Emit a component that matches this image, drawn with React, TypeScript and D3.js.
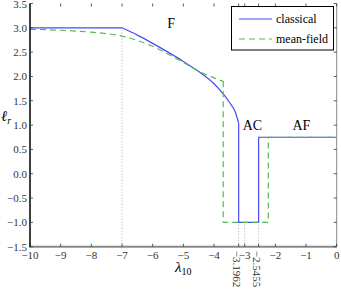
import { useEffect, useRef } from "react";
import * as d3 from "d3";

// classical curve (lambda, l_r): flat, curved branch, then AC well and AF plateau
const classicalCurveX = [-7, -6.5, -6, -5.5, -5, -4.5, -4, -3.7, -3.5, -3.3, -3.1962];
const classicalCurveY = [3.0, 2.85, 2.68, 2.5, 2.31, 2.1, 1.85, 1.64, 1.47, 1.26, 1.04];
const classicalStepX = [-3.1962, -3.1962, -2.5455, -2.5455, 0];
const classicalStepY = [1.04, -1.0, -1.0, 0.75, 0.75];

// mean-field curve
const meanCurveX = [-10, -9, -8, -7, -6.5, -6, -5.5, -5, -4.5, -4, -3.7];
const meanCurveY = [2.97, 2.95, 2.91, 2.83, 2.74, 2.62, 2.46, 2.29, 2.11, 1.97, 1.9];
const meanStepX = [-3.7, -3.7, -2.23, -2.23, 0];
const meanStepY = [1.9, -1.0, -1.0, 0.75, 0.75];

const xTicks = [-10, -9, -8, -7, -6, -5, -4, -3, -2, -1, 0];
const yTicks = [-1.5, -1.0, -0.5, 0.0, 0.5, 1.0, 1.5, 2.0, 2.5, 3.0, 3.5];
const specialTicks = [-3.1962, -2.5455];
const guides = [
  { x: -7, top: 3.0 },
  { x: -3.1962, top: -1.0 },
  { x: -3, top: -1.0 },
  { x: -2.5455, top: -1.0 },
];
const regionLabels = [
  { text: "F", x: -5.4, y: 3.0 },
  { text: "AC", x: -2.75, y: 0.9 },
  { text: "AF", x: -1.15, y: 0.9 },
];

const minus = (s: string) => s.replace("-", "\u2212");

export default function App() {
  const svgRef = useRef<SVGSVGElement>(null);

  useEffect(() => {
    document.body.style.margin = "0";
    if (!svgRef.current) return;
    const svg = d3.select(svgRef.current);
    svg.selectAll("*").remove();

    const margin = { top: 3.5, right: 4.3, bottom: 44.3, left: 30 };
    const W = 341, H = 291;
    const x = d3.scaleLinear().domain([-10, 0]).range([margin.left, W - margin.right]);
    const y = d3.scaleLinear().domain([-1.5, 3.5]).range([H - margin.bottom, margin.top]);
    const font = "Liberation Serif, DejaVu Serif, Times New Roman, serif";

    // guide lines
    svg.append("g")
      .selectAll("line")
      .data(guides)
      .enter()
      .append("line")
      .attr("x1", (d) => x(d.x))
      .attr("x2", (d) => x(d.x))
      .attr("y1", y(-1.5))
      .attr("y2", (d) => y(d.top))
      .attr("stroke", "#aaa")
      .attr("stroke-width", 1)
      .attr("stroke-dasharray", "1,2");

    const path = (xs: number[], ys: number[], curve: d3.CurveFactory) =>
      d3.line<number>().x((d) => x(d)).y((_, i) => y(ys[i])).curve(curve)(xs) as string;

    const blue = "#4a4af0";
    const green = "#55b855";

    const cls = svg.append("g").attr("fill", "none").attr("stroke", blue).attr("stroke-width", 1.2);
    cls.append("path").attr("d", path([-10, -7], [3.0, 3.0], d3.curveLinear));
    cls.append("path").attr("d", path(classicalCurveX, classicalCurveY, d3.curveMonotoneX));
    cls.append("path").attr("d", path(classicalStepX, classicalStepY, d3.curveLinear));

    const mf = svg.append("g").attr("fill", "none").attr("stroke", green)
      .attr("stroke-width", 1.2).attr("stroke-dasharray", "6,4");
    mf.append("path").attr("d", path(meanCurveX, meanCurveY, d3.curveMonotoneX));
    mf.append("path").attr("d", path(meanStepX, meanStepY, d3.curveLinear));

    // spines
    const x0 = x(-10), x1 = x(0), yb = y(-1.5), yt = y(3.5);
    svg.append("line").attr("x1", x1).attr("x2", x1).attr("y1", yt).attr("y2", yb)
      .attr("stroke", "#888").attr("stroke-width", 1);
    svg.append("line").attr("x1", x0 - 1).attr("x2", x1).attr("y1", yb).attr("y2", yb)
      .attr("stroke", "#888").attr("stroke-width", 2);
    svg.append("line").attr("x1", x0).attr("x2", x0).attr("y1", yt).attr("y2", yb)
      .attr("stroke", "#000").attr("stroke-width", 1.5);

    // ticks
    const allX = [...xTicks, ...specialTicks];
    const tg = svg.append("g").attr("stroke", "#333").attr("stroke-width", 0.8);
    allX.forEach((t) => {
      tg.append("line").attr("x1", x(t)).attr("x2", x(t)).attr("y1", yb).attr("y2", yb - 3);
      tg.append("line").attr("x1", x(t)).attr("x2", x(t)).attr("y1", yt).attr("y2", yt + 3);
    });
    yTicks.forEach((t) => {
      tg.append("line").attr("x1", x0).attr("x2", x0 + 3).attr("y1", y(t)).attr("y2", y(t));
      tg.append("line").attr("x1", x1).attr("x2", x1 - 3).attr("y1", y(t)).attr("y2", y(t));
    });

    svg.append("g")
      .selectAll("text")
      .data(xTicks)
      .enter()
      .append("text")
      .attr("x", (d) => x(d))
      .attr("y", yb + 12.5)
      .attr("text-anchor", "middle")
      .style("font-family", font)
      .attr("font-size", 11)
      .attr("fill", "#333")
      .text((d) => minus(d.toString()));

    svg.append("g")
      .selectAll("text")
      .data(specialTicks)
      .enter()
      .append("text")
      .attr("transform", (d) => `translate(${x(d) - 5.5},${yb + 4}) rotate(90)`)
      .attr("text-anchor", "start")
      .style("font-family", font)
      .attr("font-size", 11)
      .attr("fill", "#333")
      .text((d) => minus(d.toString()));

    svg.append("g")
      .selectAll("text")
      .data(yTicks)
      .enter()
      .append("text")
      .attr("x", x0 - 3)
      .attr("y", (d) => y(d) + 4)
      .attr("text-anchor", "end")
      .style("font-family", font)
      .attr("font-size", 11)
      .attr("fill", "#333")
      .text((d) => minus(d.toFixed(1)));

    // region labels
    svg.append("g")
      .selectAll("text")
      .data(regionLabels)
      .enter()
      .append("text")
      .attr("x", (d) => x(d.x))
      .attr("y", (d) => y(d.y))
      .attr("text-anchor", "middle")
      .style("font-family", font)
      .attr("font-size", 14)
      .attr("fill", "#000")
      .text((d) => d.text);

    // axis labels
    const yl = svg.append("text")
      .attr("x", 1)
      .attr("y", 121)
      .style("font-family", font)
      .attr("font-size", 15)
      .attr("font-style", "italic");
    yl.append("tspan").text("\u2113");
    yl.append("tspan").attr("font-size", 10).attr("dy", 3).text("r");

    const xl = svg.append("text")
      .attr("x", 175)
      .attr("y", 272)
      .style("font-family", font)
      .attr("font-size", 15)
      .attr("font-style", "italic");
    xl.append("tspan").text("\u03bb");
    xl.append("tspan").attr("font-size", 10).attr("font-style", "normal").attr("dy", 3).text("10");

    // legend
    const lg = svg.append("g");
    lg.append("rect")
      .attr("x", 231.5).attr("y", 6.5).attr("width", 102).attr("height", 43.5)
      .attr("fill", "#fff").attr("stroke", "#000").attr("stroke-width", 1);
    const items = [
      { label: "classical", color: blue, dash: null as string | null, yy: 19 },
      { label: "mean-field", color: green, dash: "6,4", yy: 39 },
    ];
    items.forEach((it) => {
      lg.append("line")
        .attr("x1", 239).attr("x2", 272).attr("y1", it.yy).attr("y2", it.yy)
        .attr("stroke", it.color).attr("stroke-width", 1.2)
        .attr("stroke-dasharray", it.dash);
      lg.append("text")
        .attr("x", 276).attr("y", it.yy + 4)
        .style("font-family", font).attr("font-size", 12)
        .text(it.label);
    });
  }, []);

  return <svg ref={svgRef} width={341} height={291} style={{ display: "block" }} />;
}
